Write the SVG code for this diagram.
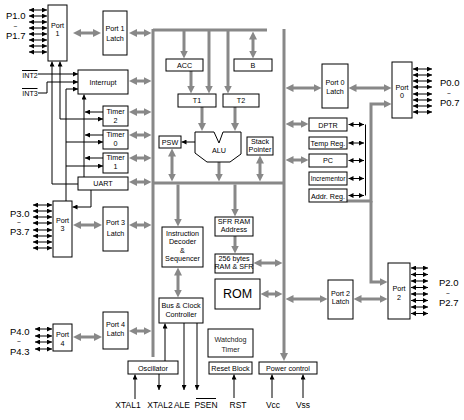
<svg xmlns="http://www.w3.org/2000/svg" width="464" height="420" viewBox="0 0 464 420">
<style>
text{font-family:"Liberation Sans",Arial,Helvetica,sans-serif;fill:#000}
.t{font-size:7.2px;text-anchor:middle}
.s{font-size:6.5px;text-anchor:middle}
.p{font-size:9.5px}
.pm{font-size:6.5px;text-anchor:middle}
.lb{font-size:8.5px;text-anchor:middle}
rect,.box{fill:#fff;stroke:#000;stroke-width:1}
.bus{fill:none;stroke:#888;stroke-width:3}
.gb{fill:none;stroke:#888;stroke-width:3;marker-start:url(#ga);marker-end:url(#ga)}
.gs{fill:none;stroke:#888;stroke-width:3;marker-end:url(#ga)}
.b{fill:none;stroke:#000;stroke-width:1;marker-end:url(#ba)}
.bb{fill:none;stroke:#000;stroke-width:1;marker-start:url(#ba);marker-end:url(#ba)}
.ln{fill:none;stroke:#000;stroke-width:1}
</style>
<defs>
<marker id="ga" viewBox="0 0 8 8" refX="3" refY="4" markerWidth="8" markerHeight="8" markerUnits="userSpaceOnUse" orient="auto-start-reverse"><path d="M0,0 L8,4 L0,8 z" fill="#888"/></marker>
<marker id="ba" viewBox="0 0 5 5" refX="5" refY="2.5" markerWidth="5" markerHeight="5" markerUnits="userSpaceOnUse" orient="auto-start-reverse"><path d="M0,0 L5,2.5 L0,5 z" fill="#000"/></marker>
</defs>
<rect x="0" y="0" width="464" height="420" style="fill:#fff;stroke:none"/>

<g id="connectors">
<path class="bus" d="M153,29 V357"/>
<path class="bus" d="M153,30 H267"/>
<path class="bus" d="M153,183 H284"/>
<path class="gs" d="M284,29 V356"/>
<path class="gb" d="M78,33 H96"/>
<path class="gb" d="M134,33 H146.5"/>
<path class="gb" d="M134,81 H146.5"/>
<path class="gb" d="M134,112 H146.5"/>
<path class="gb" d="M134,135 H146.5"/>
<path class="gb" d="M134,158 H146.5"/>
<path class="gb" d="M134,182 H146.5"/>
<path class="gb" d="M78,225 H97"/>
<path class="gb" d="M134,225 H146.5"/>
<path class="gb" d="M78,337 H97"/>
<path class="gb" d="M134,331 H146.5"/>
<path class="gs" d="M184,31 V53.5"/>
<path class="gb" d="M253,36.5 V53.5"/>
<path class="gs" d="M191,71 V88.5"/>
<path class="gs" d="M209,31 V88.5"/>
<path class="gs" d="M228,31 V88.5"/>
<path class="gs" d="M202,107 V126"/>
<path class="gs" d="M235,107 V126"/>
<path class="gs" d="M219,162 V176.5"/>
<path class="gb" d="M172,153.5 V176.5"/>
<path class="gb" d="M260,160.5 V176.5"/>
<path class="gs" d="M178,184.5 V221.5"/>
<path class="gb" d="M178,272.5 V292.5"/>
<path class="gs" d="M235,184.5 V211.5"/>
<path class="gs" d="M235,236 V248.5"/>
<path class="gb" d="M258.5,263 H277.5"/>
<path class="gb" d="M265.5,294 H277.5"/>
<path class="gb" d="M290.5,299 H322.5"/>
<path class="gb" d="M358.5,299 H382.5"/>
<path class="gb" d="M290.5,88 H316.5"/>
<path class="gb" d="M353.5,88 H386.5"/>
<path class="gb" d="M290.5,124 H303.5"/>
<path class="gb" d="M290.5,160 H303.5"/>
<path class="gs" d="M347,201 H371 V104 H386.5"/>
<path class="gs" d="M371,201 V282 H382.5"/>
<path class="b" d="M78,184 H52 V61.5"/>
<path class="bb" d="M103,119 H60 V61.5"/>
<path class="b" d="M38,74 H78"/>
<path class="b" d="M38,93 H47 V82 H78"/>
<path class="b" d="M66,201 V89 H78"/>
<path class="b" d="M66,142 H103"/>
<path class="b" d="M66,166 H103"/>
<path class="b" d="M84,177 V94.5"/>
<path class="b" d="M103,112 H85"/>
<path class="b" d="M103,135 H85"/>
<path class="b" d="M103,158 H85"/>
<path class="b" d="M91,190 V207 H72.5"/>
<path class="b" d="M195,142 H181.5"/>
<path class="b" d="M165,361 V323.5"/>
<path class="b" d="M159,374 V390"/>
<path class="b" d="M135,399 V374.5"/>
<path class="b" d="M184,323 V390"/>
<path class="b" d="M197,323 V390"/>
<path class="b" d="M234,398 V374.5"/>
<path class="b" d="M272,398 V374.5"/>
<path class="b" d="M303,398 V374.5"/>
<path class="bb" d="M348.5,124.5 H364"/>
<path class="bb" d="M348.5,143 H364"/>
<path class="bb" d="M348.5,160.5 H364"/>
<path class="bb" d="M348.5,178.5 H364"/>
<path class="bb" d="M348.5,195.5 H364"/>
<path class="ln" d="M365.5,124.5 V195.5"/>
<g id="pins1">
<path class="bb" d="M29,10 H47"/><path class="bb" d="M29,16 H47"/><path class="bb" d="M29,22 H47"/><path class="bb" d="M29,28 H47"/>
<path class="bb" d="M29,34 H47"/><path class="bb" d="M29,40 H47"/><path class="bb" d="M29,46 H47"/><path class="bb" d="M29,52 H47"/>
</g>
<g id="pins3">
<path class="bb" d="M33,205 H52"/><path class="bb" d="M33,211 H52"/><path class="bb" d="M33,217 H52"/><path class="bb" d="M33,223 H52"/>
<path class="bb" d="M33,230 H52"/><path class="bb" d="M33,236 H52"/><path class="bb" d="M33,242 H52"/><path class="bb" d="M33,248 H52"/>
</g>
<g id="pins4">
<path class="bb" d="M35,329 H52"/><path class="bb" d="M35,336 H52"/><path class="bb" d="M35,342 H52"/><path class="bb" d="M35,349 H52"/>
</g>
<g id="pins0">
<path class="bb" d="M413,69 H432"/><path class="bb" d="M413,75 H432"/><path class="bb" d="M413,81 H432"/><path class="bb" d="M413,87 H432"/>
<path class="bb" d="M413,94 H432"/><path class="bb" d="M413,100 H432"/><path class="bb" d="M413,106 H432"/><path class="bb" d="M413,112 H432"/>
</g>
<g id="pins2">
<path class="bb" d="M411,268 H428"/><path class="bb" d="M411,274.5 H428"/><path class="bb" d="M411,281 H428"/><path class="bb" d="M411,287.5 H428"/>
<path class="bb" d="M411,294 H428"/><path class="bb" d="M411,300.5 H428"/><path class="bb" d="M411,307 H428"/><path class="bb" d="M411,313.5 H428"/>
</g>
</g>

<g id="labels">
<text class="p" x="6" y="18.5">P1.0</text><text class="pm" x="15.5" y="28.5">~</text><text class="p" x="6" y="39">P1.7</text>
<text class="p" x="10" y="216.5">P3.0</text><text class="pm" x="19" y="225">~</text><text class="p" x="10" y="235.2">P3.7</text>
<text class="p" x="10" y="334.5">P4.0</text><text class="pm" x="19" y="343.5">~</text><text class="p" x="10" y="354.5">P4.3</text>
<text class="p" x="440" y="85.5">P0.0</text><text class="pm" x="449" y="95.5">~</text><text class="p" x="440" y="106">P0.7</text>
<text class="p" x="439" y="285.5">P2.0</text><text class="pm" x="448" y="295.5">~</text><text class="p" x="439" y="306">P2.7</text>
<text class="t" x="30" y="77.5">INT2</text><path class="ln" d="M22,70.5 H37.5"/>
<text class="t" x="30" y="95.5">INT3</text><path class="ln" d="M22,88.5 H37.5"/>
<text class="lb" x="128" y="408">XTAL1</text>
<text class="lb" x="160" y="408">XTAL2</text>
<text class="lb" x="182" y="408">ALE</text>
<text class="lb" x="206" y="408">PSEN</text><path class="ln" d="M196,398.5 H216"/>
<text class="lb" x="238" y="408">RST</text>
<text class="lb" x="273" y="408">Vcc</text>
<text class="lb" x="303" y="408">Vss</text>
</g>

<g id="port1"><rect x="48" y="5" width="19" height="56"/><text class="t" x="57.5" y="27.5">Port</text><text class="t" x="57.5" y="35.7">1</text></g>
<g id="port1latch"><rect x="103" y="11" width="24" height="44"/><text class="t" x="115" y="30.5">Port 1</text><text class="t" x="115" y="40.5">Latch</text></g>
<g id="interrupt"><rect x="78" y="70" width="50" height="24"/><text class="t" x="103" y="85">Interrupt</text></g>
<g id="timer2"><rect x="103" y="106" width="25" height="20"/><text class="t" x="115.5" y="113.5">Timer</text><text class="t" x="115.5" y="123">2</text></g>
<g id="timer0"><rect x="103" y="130" width="25" height="19"/><text class="t" x="115.5" y="136.5">Timer</text><text class="t" x="115.5" y="145.5">0</text></g>
<g id="timer1"><rect x="103" y="153" width="25" height="20"/><text class="t" x="115.5" y="159.5">Timer</text><text class="t" x="115.5" y="169">1</text></g>
<g id="uart"><rect x="78" y="177" width="50" height="13"/><text class="t" x="103" y="186">UART</text></g>
<g id="port3"><rect x="53" y="201" width="19" height="56"/><text class="t" x="62.5" y="223">Port</text><text class="t" x="62.5" y="231.2">3</text></g>
<g id="port3latch"><rect x="103" y="207" width="25" height="44"/><text class="t" x="115.5" y="224.5">Port 3</text><text class="t" x="115.5" y="235.5">Latch</text></g>
<g id="port4"><rect x="53" y="324" width="19" height="27"/><text class="t" x="62.5" y="337.3">Port</text><text class="t" x="62.5" y="345.5">4</text></g>
<g id="port4latch"><rect x="103" y="312" width="25" height="37"/><text class="t" x="115.5" y="326.5">Port 4</text><text class="t" x="115.5" y="335.5">Latch</text></g>
<g id="oscillator"><rect x="128" y="361" width="50" height="13"/><text class="t" x="153" y="370.5">Oscillator</text></g>

<g id="acc"><rect x="166" y="59" width="37" height="12"/><text class="t" x="184.5" y="68">ACC</text></g>
<g id="b"><rect x="234" y="59" width="38" height="12"/><text class="t" x="253" y="68">B</text></g>
<g id="t1"><rect x="178" y="94" width="38" height="13"/><text class="t" x="197" y="103">T1</text></g>
<g id="t2"><rect x="223" y="94" width="36" height="13"/><text class="t" x="241" y="103">T2</text></g>
<g id="alu"><path class="box" d="M195,132 H214 L219,143 L223,132 H241 V154 L230,162 H207 L195,153 Z"/><text class="t" x="219" y="152.5">ALU</text></g>
<g id="psw"><rect x="159" y="136" width="22" height="12"/><text class="t" x="170" y="145">PSW</text></g>
<g id="stackpointer"><rect x="247" y="137" width="26" height="18"/><text class="t" x="260" y="143.5">Stack</text><text class="t" x="260" y="151.7">Pointer</text></g>
<g id="decoder"><rect x="162" y="227" width="41" height="40"/><text class="t" x="182.5" y="236">Instruction</text><text class="t" x="182.5" y="244.3">Decoder</text><text class="t" x="182.5" y="252.6">&amp;</text><text class="t" x="182.5" y="261.2">Sequencer</text></g>
<g id="sfraddr"><rect x="215" y="217" width="38" height="19"/><text class="t" x="234" y="224">SFR RAM</text><text class="t" x="234" y="232.2">Address</text></g>
<g id="ram"><rect x="215" y="254" width="38" height="19"/><text class="t" x="234" y="260.8">256 bytes</text><text class="t" x="234" y="269">RAM &amp; SFR</text></g>
<g id="rom"><rect x="215" y="279" width="45" height="30"/><text x="237.5" y="297.5" style="font-size:12.5px;text-anchor:middle">ROM</text></g>
<g id="busclock"><rect x="159" y="298" width="44" height="25"/><text class="t" x="181" y="308.3">Bus &amp; Clock</text><text class="t" x="181" y="316.5">Controller</text></g>
<g id="watchdog"><rect x="208" y="329" width="45" height="28"/><text class="t" x="230.5" y="342" style="fill:#222">Watchdog</text><text class="t" x="230.5" y="351.5" style="fill:#222">Timer</text></g>
<g id="reset"><rect x="209" y="362" width="43" height="12"/><text class="t" x="230.5" y="371">Reset Block</text></g>
<g id="power"><rect x="259" y="362" width="58" height="12"/><text class="t" x="288" y="371">Power control</text></g>

<g id="port0latch"><rect x="322" y="64" width="26" height="44"/><text class="t" x="335" y="85">Port 0</text><text class="t" x="335" y="93.5">Latch</text></g>
<g id="port0"><rect x="392" y="62" width="20" height="56"/><text class="t" x="402" y="89.5">Port</text><text class="t" x="402" y="97.7">0</text></g>
<g id="dptr"><rect x="309" y="118" width="38" height="13"/><text class="t" x="328" y="127.5">DPTR</text></g>
<g id="tempreg"><rect x="309" y="137" width="38" height="12"/><text class="t" x="328" y="145.5">Temp Reg.</text></g>
<g id="pc"><rect x="309" y="154" width="38" height="13"/><text class="t" x="328" y="163">PC</text></g>
<g id="incrementor"><rect x="309" y="172" width="38" height="13"/><text class="s" x="328" y="181">Incrementor</text></g>
<g id="addrreg"><rect x="309" y="189" width="38" height="13"/><text class="t" x="328" y="198.5">Addr. Reg.</text></g>
<g id="port2latch"><rect x="328" y="280" width="25" height="39"/><text class="t" x="340.5" y="296">Port 2</text><text class="t" x="340.5" y="304.2">Latch</text></g>
<g id="port2"><rect x="388" y="263" width="22" height="56"/><text class="t" x="399" y="291.3">Port</text><text class="t" x="399" y="299.5">2</text></g>
</svg>
